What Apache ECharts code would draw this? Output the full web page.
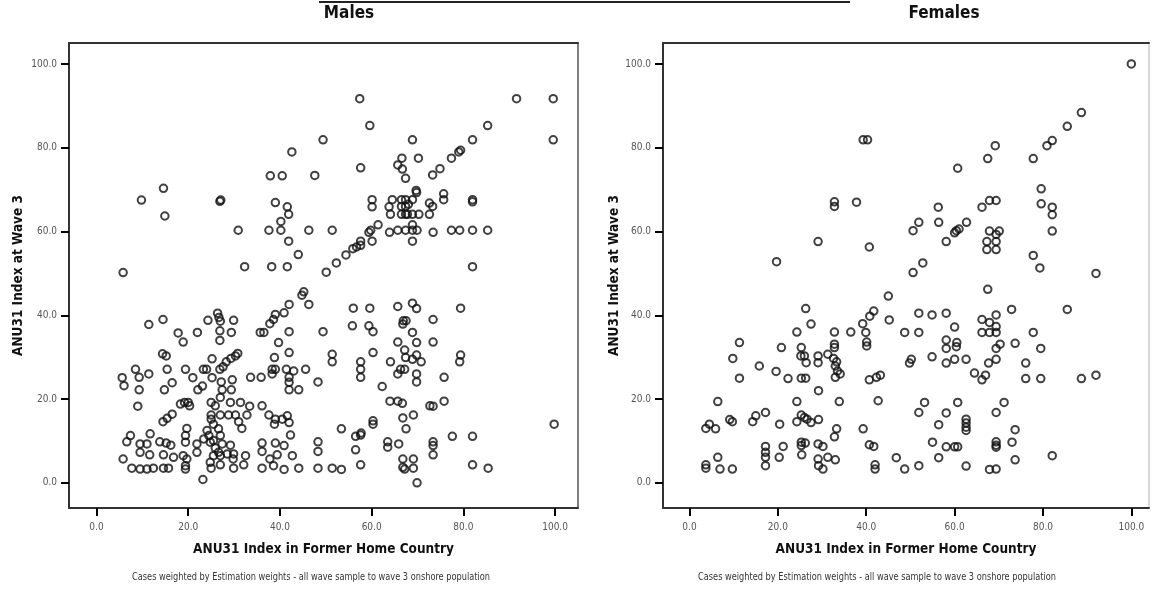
<!DOCTYPE html>
<html>
<head>
<meta charset="utf-8">
<title>ANU31 Index scatter</title>
<script src="https://cdn.jsdelivr.net/npm/echarts@6/dist/echarts.min.js"></script>
<style>
  html, body { margin: 0; padding: 0; background: #fff; }
  #chart { width: 1153px; height: 596px; }
</style>
</head>
<body>
<div id="chart"></div>
<script>
// [home country index, wave 3 index]
const malePoints = [
  [5.8,50.2],[9.8,67.5],[14.6,70.3],[14.9,63.7],[26.9,67.2],[27.1,67.5],[30.9,60.3],[32.3,51.6],
  [37.9,73.3],[40.5,73.3],[38.2,51.6],[37.6,60.3],[39.0,66.9],[40.2,62.4],[40.2,60.3],[41.6,65.9],
  [41.9,64.1],[41.6,51.6],[41.9,57.7],[42.6,79.0],[44.0,54.5],
  [57.4,91.7],[59.6,85.3],[49.4,81.9],[47.6,73.4],[57.6,75.2],[68.9,81.9],[70.2,77.5],[66.6,77.5],
  [65.7,75.9],[66.7,74.9],[67.4,72.7],[73.3,73.5],[74.9,75.0],[77.4,77.5],[79.0,79.0],[79.4,79.4],
  [82.0,81.9],[85.3,85.3],[91.6,91.7],[99.6,91.7],[99.6,81.9],[69.7,69.8],[69.8,69.3],[75.7,69.0],
  [75.7,67.6],[72.6,66.8],[73.3,66.0],[72.6,64.1],[82.0,67.6],[82.0,67.1],[68.9,67.6],[66.5,67.6],
  [67.4,67.6],[66.5,66.0],[67.4,66.0],[66.5,64.1],[67.4,64.1],[68.0,66.5],[64.5,67.6],[63.8,65.9],
  [64.1,64.1],[67.8,64.1],[68.9,64.1],[70.3,64.1],[60.1,67.6],[60.1,65.9],[61.4,61.6],[59.8,60.3],
  [59.4,59.8],[60.1,57.7],[57.6,57.7],[57.6,56.7],[56.7,56.3],[55.9,55.9],[54.4,54.4],[52.3,52.5],
  [50.1,50.3],[46.3,60.3],[51.4,60.3],[63.9,59.8],[65.7,60.3],[67.4,60.3],[68.9,60.3],[69.9,60.3],
  [68.9,61.6],[68.9,57.7],[73.4,59.8],[77.4,60.3],[79.2,60.3],[82.0,60.3],[85.3,60.3],[82.0,51.6],
  [45.2,45.6],[44.8,44.8],
  [5.6,25.1],[6.0,23.2],[8.5,27.1],[9.3,25.2],[9.3,22.2],[9.0,18.3],[11.4,37.8],[11.4,26.0],
  [14.5,39.0],[14.4,30.8],[15.2,30.3],[15.4,27.1],[14.8,22.2],[16.5,23.9],[17.8,35.8],[18.9,33.6],
  [22.0,35.9],[24.3,38.8],[26.4,40.5],[26.7,39.5],[27.0,38.6],[26.9,36.3],[26.9,34.0],[29.9,38.8],
  [29.4,35.9],[25.2,29.6],[19.4,27.1],[21.0,25.1],[23.3,27.1],[24.0,27.1],[23.1,23.1],[22.1,22.2],
  [25.2,25.1],[26.9,27.1],[27.6,27.7],[28.3,28.9],[29.3,29.7],[30.3,30.3],[30.8,30.9],[27.2,24.1],
  [29.6,24.6],[29.4,22.2],[27.4,22.2],[27.0,20.4],[25.0,19.2],[25.9,18.4],[25.0,16.2],[27.0,16.2],
  [28.8,16.2],[30.3,16.2],[29.2,19.2],[31.4,19.2],[33.4,18.3],[32.8,16.2],[31.0,14.6],[31.7,13.0],
  [18.3,18.8],[19.2,19.2],[20.0,19.2],[20.3,18.4],[14.5,14.6],[15.4,15.4],[16.5,16.4],[19.7,13.0],
  [19.4,11.3],[19.4,9.7],[21.9,9.3],[21.9,7.3],[11.7,11.7],[7.4,11.3],[6.6,9.8],[9.5,9.3],
  [11.0,9.3],[9.5,7.3],[11.6,6.7],[13.8,9.8],[15.2,9.5],[16.2,9.0],[14.6,6.7],[16.8,6.1],
  [5.8,5.7],[7.7,3.5],[9.5,3.3],[11.0,3.3],[12.4,3.5],[14.6,3.5],[15.7,3.5],[19.4,4.1],
  [19.4,3.3],[18.9,6.5],[19.7,5.7],[23.2,0.8],[25.0,3.5],[27.0,4.3],[29.9,3.5],[32.1,4.3],
  [23.4,10.5],[24.1,12.5],[24.5,11.3],[24.8,9.7],[25.5,10.1],[25.9,8.3],[26.6,7.3],[25.5,6.5],
  [27.0,6.5],[28.5,6.9],[29.2,9.0],[29.9,6.9],[29.8,5.7],[32.5,6.5],[27.0,11.3],[26.6,12.9],
  [25.5,14.0],[25.0,15.2],[27.4,9.3],[24.8,4.9],
  [35.7,35.9],[36.5,35.9],[37.8,38.0],[38.6,39.0],[39.0,40.2],[40.9,40.6],[42.0,42.6],
  [39.7,33.5],[42.0,36.1],[38.8,29.9],[42.0,31.1],[33.6,25.2],[35.9,25.2],[38.3,27.1],[39.0,27.1],
  [41.4,27.1],[43.0,26.7],[38.3,26.0],[42.0,25.2],[42.0,24.0],[42.0,22.2],[44.1,22.2],[36.1,18.4],
  [37.6,16.2],[39.0,15.2],[38.8,14.0],[40.5,15.2],[41.6,16.0],[42.0,14.4],[42.3,11.4],[36.1,9.5],
  [36.1,7.5],[37.8,5.7],[39.0,9.5],[39.4,6.7],[40.9,8.9],[42.7,6.5],[36.1,3.5],[38.6,4.1],
  [40.9,3.2],[44.1,3.5],
  [46.3,42.6],[56.0,41.7],[59.6,41.7],[65.7,42.1],[68.9,42.9],[69.8,41.6],[79.4,41.7],[73.4,39.0],
  [66.9,38.7],[67.5,38.7],[66.8,37.9],[55.8,37.5],[59.4,37.5],[60.3,36.1],[49.4,36.1],[68.9,35.9],
  [65.7,33.6],[69.8,33.5],[73.4,33.6],[67.2,31.7],[67.4,29.9],[69.8,30.5],[68.9,29.5],[70.8,28.9],
  [69.8,26.0],[69.8,24.1],[67.2,27.1],[66.3,27.1],[65.7,26.0],[64.1,28.9],[60.3,31.1],[57.6,28.9],
  [57.6,27.1],[57.6,25.2],[51.4,30.7],[51.4,28.9],[45.6,27.1],[48.3,24.1],[62.3,23.0],[64.0,19.5],
  [65.7,19.5],[66.7,19.0],[75.8,25.2],[75.8,19.5],[72.7,18.4],[73.4,18.3],[79.4,30.5],[79.2,28.9],
  [69.1,16.2],[66.8,15.5],[67.5,12.9],[60.3,14.8],[60.3,14.0],[53.4,12.9],[56.5,11.1],[57.6,11.4],
  [57.7,11.9],[56.5,7.9],[48.3,9.8],[48.3,7.5],[63.5,9.8],[63.5,8.5],[65.9,9.3],[73.4,9.8],
  [73.4,8.9],[73.4,6.7],[77.6,11.1],[82.0,11.1],[99.8,14.0],[48.3,3.5],[51.4,3.5],[53.4,3.2],
  [57.6,4.3],[66.8,5.7],[69.1,5.7],[66.8,3.7],[67.2,3.3],[69.1,3.5],[69.9,0.0],[82.0,4.3],
  [85.4,3.5]
];

const femalePoints = [
  [19.7,52.8],[29.1,57.6],[32.8,67.1],[32.8,66.0],[37.8,67.0],[40.7,56.3],[39.3,81.9],[40.3,81.9],
  [100.0,100.0],[88.7,88.4],[85.5,85.1],[82.1,81.7],[80.9,80.5],[69.2,80.5],[67.5,77.4],[77.8,77.4],
  [60.7,75.1],[79.6,70.2],[79.6,66.6],[82.1,65.8],[82.1,64.0],[82.1,60.1],[67.9,67.4],[69.4,67.4],
  [66.2,65.8],[56.3,65.8],[56.4,62.2],[51.9,62.2],[50.6,60.2],[62.7,62.2],[60.4,60.2],[61.0,60.6],
  [60.0,59.7],[58.1,57.6],[52.8,52.5],[50.6,50.2],[67.9,60.1],[70.1,60.1],[69.4,59.3],[67.3,57.6],
  [69.4,57.6],[67.3,55.7],[69.4,55.7],[77.8,54.3],[79.3,51.3],[92.0,50.0],[67.5,46.2],[45.0,44.6],
  [3.7,13.0],[4.5,14.0],[5.9,12.9],[6.4,19.4],[9.1,15.1],[9.7,14.6],[9.8,29.7],[11.3,33.5],
  [11.3,25.0],[3.7,4.3],[3.7,3.5],[6.4,6.1],[6.9,3.3],[9.7,3.3],[14.3,14.6],[15.0,16.0],
  [17.2,16.8],[15.8,27.9],[17.2,8.7],[17.2,7.3],[17.2,6.1],[17.2,4.1],[19.6,26.6],[20.8,32.3],
  [20.4,14.0],[21.2,8.7],[20.3,6.1],[22.3,24.9],[24.3,36.0],[24.3,19.4],[24.3,14.6],[27.5,37.9],
  [26.3,41.6],[25.3,32.3],[25.2,30.3],[26.0,30.3],[26.4,28.7],[25.3,25.0],[26.3,25.0],[25.3,16.2],
  [26.0,15.6],[26.6,15.2],[27.5,14.4],[29.2,15.1],[25.3,9.7],[26.2,9.5],[25.3,8.9],[25.4,6.7],
  [29.1,30.3],[29.1,28.7],[31.3,30.7],[29.2,22.0],[29.1,9.3],[30.2,8.7],[29.1,5.7],[29.2,4.1],
  [30.2,3.3],[31.3,6.1],[33.0,5.5],[32.8,36.0],[32.8,33.1],[32.8,32.3],[32.6,29.7],[33.0,27.9],
  [33.3,28.9],[33.5,26.7],[33.0,25.2],[34.1,26.0],[33.9,19.4],[33.3,12.9],[32.8,11.0],[36.5,36.0],
  [39.2,38.0],[40.8,39.8],[41.7,41.0],[39.9,35.9],[40.1,33.6],[40.1,32.7],[40.7,24.6],[42.3,25.2],
  [42.7,19.6],[39.3,12.9],[40.7,9.1],[41.7,8.7],[42.0,4.3],[42.0,3.3],
  [45.2,38.9],[43.2,25.7],[51.9,40.5],[54.9,40.1],[58.1,40.5],[60.0,37.2],[58.1,34.1],[58.1,32.1],
  [60.5,33.5],[60.4,32.5],[51.9,35.9],[48.7,35.9],[50.2,29.5],[49.8,28.6],[54.9,30.1],[58.1,28.6],
  [60.0,29.5],[62.6,29.5],[64.5,26.2],[66.2,24.6],[67.0,25.7],[67.7,28.6],[69.4,29.5],[66.2,39.0],
  [66.2,35.9],[67.9,38.3],[69.4,40.1],[69.4,37.3],[69.4,35.9],[67.9,35.9],[69.4,32.1],[70.3,33.1],
  [72.9,41.4],[73.7,33.3],[77.8,35.9],[79.5,32.1],[76.1,28.6],[76.1,24.9],[79.5,24.9],[85.5,41.4],
  [88.7,24.9],[92.0,25.7],[53.2,19.2],[51.9,16.8],[58.1,16.7],[60.7,19.2],[56.4,13.9],[62.6,15.2],
  [62.6,14.3],[62.6,13.3],[62.6,12.5],[69.4,16.8],[71.2,19.2],[73.7,12.7],[73.0,9.7],[69.4,9.8],
  [69.4,9.0],[69.4,8.5],[55.0,9.7],[58.1,8.6],[60.0,8.6],[60.7,8.6],[46.8,6.0],[56.4,6.0],
  [48.7,3.3],[51.9,4.1],[62.6,4.0],[67.9,3.2],[69.4,3.3],[73.7,5.5],[82.1,6.5]
];

const tickValues = [0, 20, 40, 60, 80, 100];
const panelTitles = ['Males', 'Females'];
const xAxisTitle = 'ANU31 Index in Former Home Country';
const yAxisTitle = 'ANU31 Index at Wave 3';
const footnote = 'Cases weighted by Estimation weights - all wave sample to wave 3 onshore population';

const FONT = "'Liberation Sans Narrow', 'Arial Narrow', 'DejaVu Sans Condensed', sans-serif";
const INK = '#111';

const chart = echarts.init(document.getElementById('chart'), null, { renderer: 'canvas' });

function valueAxis(gridIndex, min, max, labelMargin, opts) {
  return Object.assign({
    type: 'value',
    gridIndex: gridIndex,
    min: min,
    max: max,
    splitLine: { show: false },
    axisLine: { show: true, onZero: false, lineStyle: { color: '#333', width: 2 } },
    axisTick: {
      show: true, length: 8,
      customValues: tickValues,
      lineStyle: { color: '#000', width: 2 }
    },
    axisLabel: {
      show: true,
      customValues: tickValues,
      formatter: v => v.toFixed(1),
      color: '#555',
      fontFamily: FONT,
      fontSize: 10,
      margin: labelMargin
    },
    nameLocation: 'middle',
    nameTextStyle: { fontFamily: FONT, fontWeight: 'bold', fontSize: 13.5, color: INK }
  }, opts || {});
}

// Plain axis line used to close the plot frame on the top and right sides.
function frameAxis(kind, gridIndex, min, max, position, color) {
  return {
    type: 'value', gridIndex, min, max, position,
    splitLine: { show: false },
    axisTick: { show: false },
    axisLabel: { show: false },
    axisLine: { show: true, onZero: false, lineStyle: { color: color, width: kind === 'x' ? 2 : 1.5 } }
  };
}

const yMin = -6, yMax = 105;
const grids = [
  { left: 69, top: 43, width: 509, height: 465 },
  { left: 663, top: 43, width: 486, height: 465 }
];
const xRanges = [[-6, 105], [-6, 104]];

const scatterStyle = {
  color: 'rgba(0,0,0,0)',
  borderColor: INK,
  borderWidth: 2
};

function footnoteText(cx) {
  return {
    type: 'text', x: cx, y: 572, scaleX: 0.83,
    style: { text: footnote, textAlign: 'center', textVerticalAlign: 'top',
      fontFamily: FONT, fontSize: 11, fill: '#333' }
  };
}

const option = {
  backgroundColor: '#fff',
  animation: false,
  grid: grids,
  xAxis: [
    valueAxis(0, xRanges[0][0], xRanges[0][1], 14, { name: xAxisTitle, nameGap: 34 }),
    valueAxis(1, xRanges[1][0], xRanges[1][1], 14, { name: xAxisTitle, nameGap: 34 }),
    frameAxis('x', 0, xRanges[0][0], xRanges[0][1], 'top', '#333'),
    frameAxis('x', 1, xRanges[1][0], xRanges[1][1], 'top', '#333')
  ],
  yAxis: [
    valueAxis(0, yMin, yMax, 12, { name: yAxisTitle, nameGap: 44 }),
    valueAxis(1, yMin, yMax, 12, { name: yAxisTitle, nameGap: 39 }),
    frameAxis('y', 0, yMin, yMax, 'right', '#555'),
    frameAxis('y', 1, yMin, yMax, 'right', '#ccc')
  ],
  graphic: [
    { type: 'rect', shape: { x: 319, y: 1, width: 531, height: 2 }, style: { fill: '#222' }, silent: true },
    { type: 'text', x: 349, y: 5, style: { text: panelTitles[0], textAlign: 'center', textVerticalAlign: 'top',
      fontFamily: FONT, fontWeight: 'bold', fontSize: 17, fill: INK } },
    { type: 'text', x: 944, y: 5, style: { text: panelTitles[1], textAlign: 'center', textVerticalAlign: 'top',
      fontFamily: FONT, fontWeight: 'bold', fontSize: 17, fill: INK } },
    footnoteText(311),
    footnoteText(877)
  ],
  series: [
    {
      name: panelTitles[0], type: 'scatter', xAxisIndex: 0, yAxisIndex: 0,
      symbol: 'circle', symbolSize: 7.5, itemStyle: scatterStyle, data: malePoints
    },
    {
      name: panelTitles[1], type: 'scatter', xAxisIndex: 1, yAxisIndex: 1,
      symbol: 'circle', symbolSize: 7.5, itemStyle: scatterStyle, data: femalePoints
    }
  ]
};

chart.setOption(option);
</script>
</body>
</html>
